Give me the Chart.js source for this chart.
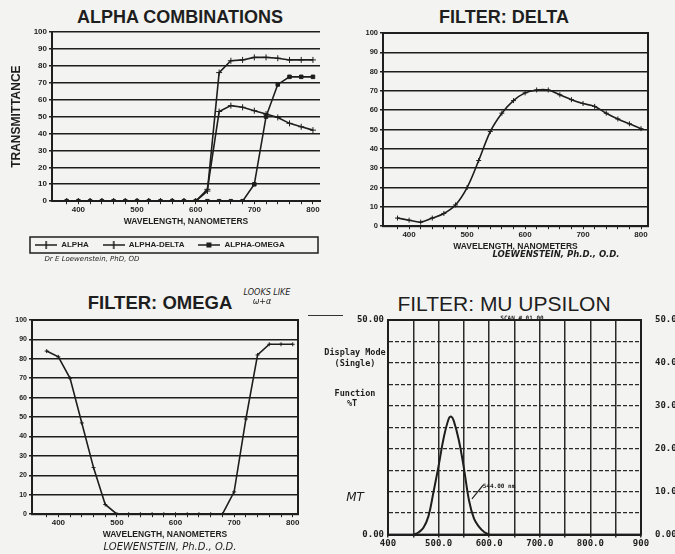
<!DOCTYPE html>
<html>
<head>
<meta charset="utf-8">
<script src="https://cdn.jsdelivr.net/npm/chart.js@4.4.0/dist/chart.umd.min.js"></script>
<style>
  body { margin: 0; width: 675px; height: 554px; overflow: hidden; position: relative;
         background: #f3f3f1; color: #1e1e1e; font-family: "Liberation Sans", Arial, sans-serif; }
  canvas { position: absolute; }
  .t { position: absolute; white-space: nowrap; transform: translate(-50%, -50%); }
  .title { font-weight: bold; font-size: 18px; }
  .hand { font-family: "DejaVu Sans", sans-serif; font-style: italic; color: #1e1e1e; }
  .mono { font-family: "DejaVu Sans Mono", monospace; font-weight: bold; font-size: 8.5px; }
</style>
</head>
<body>
<div class="t title" style="left:180px;top:17px">ALPHA COMBINATIONS</div>
<div class="t title" style="left:504px;top:17px">FILTER: DELTA</div>
<div class="t title" style="left:160px;top:303px;font-size:18.5px">FILTER: OMEGA</div>
<div class="t" style="left:504px;top:304px;font-size:21px">FILTER: MU UPSILON</div>

<canvas id="alphaChart" width="335" height="270" style="left:0;top:0"></canvas>
<canvas id="deltaChart" width="340" height="270" style="left:335px;top:0"></canvas>
<canvas id="omegaChart" width="335" height="254" style="left:0;top:300px"></canvas>
<canvas id="muChart" width="380" height="254" style="left:320px;top:300px"></canvas>

<div class="t hand" style="left:92px;top:259px;font-size:7px">Dr E Loewenstein, PhD, OD</div>
<div class="t hand" style="left:556px;top:254px;font-size:8.5px;font-weight:bold">LOEWENSTEIN, Ph.D., O.D.</div>
<div class="t hand" style="left:170px;top:546px;font-size:10px">LOEWENSTEIN, Ph.D., O.D.</div>
<div class="t hand" style="left:267px;top:292px;font-size:8px">LOOKS LIKE</div>
<div class="t hand" style="left:262px;top:301px;font-size:8px">ω+α</div>
<div style="position:absolute;left:308px;top:315px;width:35px;border-top:1.5px solid #333"></div>

<div class="t mono" style="left:355px;top:352px">Display Mode</div>
<div class="t mono" style="left:355px;top:363px">(Single)</div>
<div class="t mono" style="left:355px;top:393px">Function</div>
<div class="t mono" style="left:352px;top:403px">%T</div>
<div class="t mono" style="left:522px;top:317px;font-size:6px">SCAN # 01.00</div>
<div class="t mono" style="left:499px;top:485px;font-size:6px">544.00 nm</div>
<div class="t hand" style="left:355px;top:497px;font-size:12px">MT</div>

<script>
const ink = '#1e1e1e';
Chart.defaults.font.family = "'Liberation Sans', Arial, sans-serif";
Chart.defaults.font.weight = 'bold';
Chart.defaults.color = ink;
Chart.defaults.animation = false;

// wavelength samples, nm
const wavelengths = [380, 400, 420, 440, 460, 480, 500, 520, 540, 560, 580,
                     600, 620, 640, 660, 680, 700, 720, 740, 760, 780, 800];

// ALPHA COMBINATIONS, % transmittance
const alpha      = [0, 0, 0, 0, 0, 0, 0, 0, 0, 0, 0, 0, 6, 76, 83, 83.5, 85, 85, 84.5, 83.5, 83.5, 83.5];
const alphaDelta = [0, 0, 0, 0, 0, 0, 0, 0, 0, 0, 0, 0, 7, 53, 56.5, 55.5, 53.5, 51.5, 49.5, 46, 44, 42];
const alphaOmega = [0, 0, 0, 0, 0, 0, 0, 0, 0, 0, 0, 0, 0, 0, 0, 0, 10, 50, 69, 73.5, 73.5, 73.5];
const alphaNames = ['ALPHA', 'ALPHA-DELTA', 'ALPHA-OMEGA'];

// FILTER: DELTA
const delta = [4.2, 3.1, 2.1, 4.2, 6.6, 11, 20, 34, 49, 58.5, 65, 69, 70.5, 70.5, 68, 65.5, 63.5, 62, 58.5, 55.5, 53, 50.5];

// FILTER: OMEGA
const omega = [84, 81, 70, 47, 24, 5, 0, 0, 0, 0, 0, 0, 0, 0, 0, 0, 11.5, 49, 82, 87.5, 87.5, 87.5];

// FILTER: MU UPSILON (spectrophotometer trace)
const muWavelengths = [450, 460, 470, 480, 490, 500, 510, 520, 525, 530, 540, 550, 560, 570, 580, 590, 600];
const mu            = [0, 0.5, 1.6, 4.3, 10, 16, 22.5, 27, 27.5, 26.5, 22, 15.5, 8, 3.7, 1.8, 0.6, 0];
const muTickValues  = [400, 500, 600, 700, 800, 900];
const muTickLabels  = ['400', '500.0', '600.0', '700.0', '800.0', '900'];
const muCallout     = [[588, 11.5], [566, 8.3]];

const pts = (xs, ys) => ys.map((y, i) => ({x: xs[i], y}));

const frame = {
    id: 'frame',
    afterDatasetsDraw(chart) {
        const {ctx, chartArea: a} = chart;
        ctx.save();
        ctx.strokeStyle = ink;
        ctx.lineWidth = 2;
        ctx.strokeRect(a.left, a.top, a.right - a.left, a.bottom - a.top);
        ctx.restore();
    }
};

function legendIcon(style) {
    const c = document.createElement('canvas');
    c.width = 22; c.height = 8;
    const g = c.getContext('2d');
    g.strokeStyle = ink; g.fillStyle = ink; g.lineWidth = 1.5;
    g.beginPath(); g.moveTo(0, 4); g.lineTo(22, 4); g.stroke();
    if (style === 'rect') {
        g.fillRect(8, 1.5, 5, 5);
    } else {
        g.beginPath(); g.moveTo(11, 0); g.lineTo(11, 8); g.stroke();
    }
    return c;
}

const legendBox = {
    id: 'legendBox',
    afterDraw(chart) {
        const boxes = chart.legend.legendHitBoxes;
        if (!boxes.length) return;
        const a = chart.chartArea, b = boxes[0];
        const ctx = chart.ctx;
        ctx.save();
        ctx.strokeStyle = ink;
        ctx.lineWidth = 1.5;
        ctx.strokeRect(a.left - 22, b.top - 4, a.right - a.left + 20, b.height + 8);
        ctx.restore();
    }
};

function wlAxis() {
    return {
        type: 'linear', min: 355, max: 812,
        afterBuildTicks: axis => { axis.ticks = wavelengths.map(v => ({value: v})); },
        ticks: { autoSkip: false, maxRotation: 0, padding: 1, font: {size: 8},
                 callback: v => v % 100 === 0 ? v : '' },
        grid: { drawOnChartArea: false, color: ink, tickLength: 3 },
        border: { color: ink, width: 2 },
        title: { display: true, text: 'WAVELENGTH, NANOMETERS', font: {size: 8.5},
                 padding: {top: 1, bottom: 0} }
    };
}

function pctAxis(width, fontSize, title) {
    return {
        min: 0, max: 100,
        ticks: { stepSize: 10, padding: 2, font: {size: fontSize} },
        grid: { color: ink, lineWidth: 1.6, tickLength: 3 },
        border: { color: ink, width: 2 },
        title: title ? { display: true, text: title, font: {size: 12}, padding: {top: 9, bottom: 0} }
                     : { display: false },
        afterFit: axis => { axis.width = width; }
    };
}

function series(label, ys, style, radius) {
    return {
        label, data: pts(wavelengths, ys),
        borderColor: ink, backgroundColor: ink, borderWidth: 1.6,
        pointStyle: style, pointRadius: radius, pointBorderColor: ink,
        pointBackgroundColor: ink, pointBorderWidth: 1
    };
}

new Chart(document.getElementById('alphaChart'), {
    type: 'line',
    data: {
        datasets: [
            series(alphaNames[0], alpha, 'cross', 3),
            series(alphaNames[1], alphaDelta, 'cross', 3),
            series(alphaNames[2], alphaOmega, 'rect', 2.5)
        ]
    },
    options: {
        responsive: false,
        devicePixelRatio: 1,
        layout: { padding: {left: 0, right: 15, top: 32, bottom: 11} },
        scales: { x: wlAxis(), y: pctAxis(52, 8, 'TRANSMITTANCE') },
        plugins: {
            tooltip: { enabled: false },
            legend: {
                position: 'bottom',
                labels: {
                    usePointStyle: true, pointStyleWidth: 22, boxHeight: 8, padding: 14,
                    font: {size: 8},
                    generateLabels: chart => Chart.defaults.plugins.legend.labels.generateLabels(chart)
                        .map((item, i) => ({...item, pointStyle: legendIcon(i === 2 ? 'rect' : 'cross')}))
                }
            }
        }
    },
    plugins: [legendBox]
});

new Chart(document.getElementById('deltaChart'), {
    type: 'line',
    data: { datasets: [{ ...series('DELTA', delta, 'cross', 2.5), tension: 0.35 }] },
    options: {
        responsive: false,
        devicePixelRatio: 1,
        layout: { padding: {left: 0, right: 27, top: 33, bottom: 18} },
        scales: { x: wlAxis(), y: pctAxis(48, 7.5) },
        plugins: { legend: { display: false }, tooltip: { enabled: false } }
    },
    plugins: [frame]
});

new Chart(document.getElementById('omegaChart'), {
    type: 'line',
    data: { datasets: [series('OMEGA', omega, 'cross', 2)] },
    options: {
        responsive: false,
        devicePixelRatio: 1,
        layout: { padding: {left: 0, right: 37, top: 20, bottom: 14} },
        scales: { x: { ...wlAxis(), max: 809 }, y: pctAxis(32, 7) },
        plugins: { legend: { display: false }, tooltip: { enabled: false } }
    },
    plugins: [frame]
});

const callout = {
    id: 'callout',
    afterDatasetsDraw(chart) {
        const {ctx, scales: {x, y}} = chart;
        ctx.save();
        ctx.strokeStyle = ink;
        ctx.lineWidth = 1.2;
        ctx.beginPath();
        ctx.moveTo(x.getPixelForValue(muCallout[0][0]), y.getPixelForValue(muCallout[0][1]));
        ctx.lineTo(x.getPixelForValue(muCallout[1][0]), y.getPixelForValue(muCallout[1][1]));
        ctx.stroke();
        ctx.restore();
    }
};

const mono = "'DejaVu Sans Mono', monospace";
new Chart(document.getElementById('muChart'), {
    type: 'line',
    data: {
        datasets: [{
            label: '%T', data: pts(muWavelengths, mu),
            borderColor: ink, borderWidth: 2, pointRadius: 0, tension: 0.4
        }]
    },
    options: {
        responsive: false,
        devicePixelRatio: 1,
        layout: { padding: {left: 0, right: 0, top: 20, bottom: 0} },
        scales: {
            x: {
                type: 'linear', min: 400, max: 900,
                ticks: { stepSize: 50, autoSkip: false, maxRotation: 0, padding: 1,
                         font: {family: mono, size: 9},
                         callback: v => { const i = muTickValues.indexOf(v); return i < 0 ? '' : muTickLabels[i]; } },
                grid: { color: '#2a2a2a', lineWidth: 1.5, tickLength: 3 },
                border: { color: ink, width: 2 }
            },
            y: {
                min: 0, max: 50,
                ticks: { stepSize: 5, padding: 4, font: {family: mono, size: 9},
                         callback: v => (v === 0 || v === 50) ? v.toFixed(2) : '' },
                grid: { color: '#2a2a2a', lineWidth: 1.3, drawTicks: false },
                border: { color: ink, width: 2, dash: [4, 2] },
                afterFit: axis => { axis.width = 68; }
            },
            y2: {
                position: 'right', min: 0, max: 50,
                ticks: { stepSize: 10, padding: 14, font: {family: mono, size: 9},
                         callback: v => v.toFixed(2) },
                grid: { drawOnChartArea: false, drawTicks: false },
                border: { display: false },
                afterFit: axis => { axis.width = 59; }
            }
        },
        plugins: { legend: { display: false }, tooltip: { enabled: false } }
    },
    plugins: [frame, callout]
});
</script>
</body>
</html>
